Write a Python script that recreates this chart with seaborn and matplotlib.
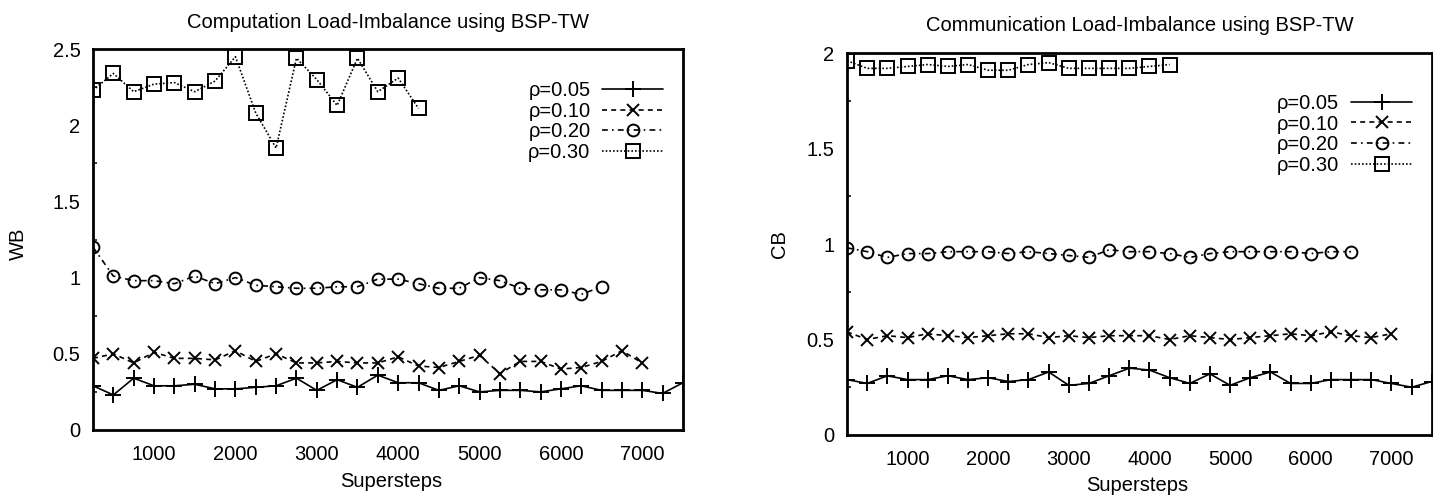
import numpy as np
import pandas as pd
import matplotlib
matplotlib.use("Agg")
import matplotlib.pyplot as plt
from matplotlib.ticker import FixedLocator, MultipleLocator, FormatStrFormatter
import seaborn as sns

# ---------------- data ----------------
supersteps = [250, 500, 750, 1000, 1250, 1500, 1750, 2000, 2250, 2500,
              2750, 3000, 3250, 3500, 3750, 4000, 4250, 4500, 4750, 5000,
              5250, 5500, 5750, 6000, 6250, 6500, 6750, 7000, 7250, 7500]

series_labels = ["\u03c1=0.05", "\u03c1=0.10", "\u03c1=0.20", "\u03c1=0.30"]

# Computation load-imbalance (WB)
wb_005 = [0.29, 0.23, 0.34, 0.29, 0.29, 0.30, 0.27, 0.27, 0.28, 0.29,
          0.34, 0.26, 0.33, 0.28, 0.36, 0.31, 0.31, 0.26, 0.29, 0.25,
          0.26, 0.26, 0.25, 0.27, 0.29, 0.26, 0.26, 0.26, 0.24, 0.31]
wb_010 = [0.47, 0.50, 0.44, 0.51, 0.47, 0.47, 0.46, 0.52, 0.45, 0.50,
          0.44, 0.44, 0.45, 0.44, 0.44, 0.48, 0.42, 0.41, 0.45, 0.49,
          0.37, 0.45, 0.45, 0.40, 0.41, 0.45, 0.52, 0.44]
wb_020 = [1.20, 1.01, 0.98, 0.98, 0.96, 1.01, 0.96, 1.00, 0.95, 0.94,
          0.93, 0.93, 0.94, 0.94, 0.99, 0.99, 0.96, 0.93, 0.93, 1.00,
          0.98, 0.93, 0.92, 0.92, 0.89, 0.94]
wb_030 = [2.23, 2.34, 2.22, 2.27, 2.28, 2.22, 2.29, 2.45, 2.08, 1.85,
          2.44, 2.30, 2.13, 2.44, 2.22, 2.31, 2.11]

# Communication load-imbalance (CB)
cb_005 = [0.29, 0.27, 0.31, 0.29, 0.29, 0.31, 0.29, 0.30, 0.28, 0.29,
          0.33, 0.26, 0.27, 0.31, 0.35, 0.34, 0.30, 0.27, 0.32, 0.26,
          0.30, 0.33, 0.27, 0.27, 0.29, 0.29, 0.29, 0.27, 0.25, 0.28]
cb_010 = [0.54, 0.50, 0.52, 0.51, 0.53, 0.52, 0.51, 0.52, 0.53, 0.53,
          0.51, 0.52, 0.51, 0.52, 0.52, 0.52, 0.50, 0.52, 0.51, 0.50,
          0.51, 0.52, 0.53, 0.52, 0.54, 0.52, 0.51, 0.53]
cb_020 = [0.98, 0.96, 0.93, 0.95, 0.95, 0.96, 0.96, 0.96, 0.95, 0.96,
          0.95, 0.94, 0.93, 0.97, 0.96, 0.96, 0.95, 0.93, 0.95, 0.96,
          0.96, 0.96, 0.96, 0.95, 0.96, 0.96]
cb_030 = [1.96, 1.92, 1.92, 1.93, 1.94, 1.93, 1.94, 1.91, 1.91, 1.94,
          1.95, 1.92, 1.92, 1.92, 1.92, 1.93, 1.94]

wb_ticks = [0, 0.5, 1, 1.5, 2, 2.5]
cb_ticks = [0, 0.5, 1, 1.5, 2]
x_ticks = [1000, 2000, 3000, 4000, 5000, 6000, 7000]

# ---------------- style ----------------
sns.set_theme(style="white")
plt.rcParams["font.family"] = ["Liberation Sans", "DejaVu Sans"]
FS = 14.5

styles = [
    dict(marker="+", linestyle="-", markersize=11, fillstyle="none"),
    dict(marker="x", linestyle=(0, (3, 2.5)), markersize=8.5, fillstyle="none"),
    dict(marker="o", linestyle=(0, (3.5, 2.5, 1, 2.5)), markersize=8.5, fillstyle="none"),
    dict(marker="s", linestyle=(0, (1, 1.2)), markersize=9.5, fillstyle="none"),
]

fig = plt.figure(figsize=(14.33, 4.96), dpi=100)
ax1 = fig.add_axes([0.0649, 0.1331, 0.4117, 0.768])
ax2 = fig.add_axes([0.5911, 0.1230, 0.4080, 0.770])


def draw(ax, data, yticks, ymax, title, ylabel, leg_anchor):
    for vals, lab, st in zip(data, series_labels, styles):
        df = pd.DataFrame({"x": supersteps[:len(vals)], "y": vals})
        sns.lineplot(data=df, x="x", y="y", ax=ax, color="black",
                     linewidth=1.2, markeredgecolor="black",
                     markeredgewidth=1.4, label=lab, **st)
    ax.set_xlim(250, 7500)
    ax.set_ylim(0, ymax)
    ax.xaxis.set_major_locator(FixedLocator(x_ticks))
    ax.yaxis.set_major_locator(FixedLocator(yticks))
    ax.yaxis.set_minor_locator(MultipleLocator(0.25))
    ax.yaxis.set_major_formatter(FormatStrFormatter("%g"))
    ax.tick_params(axis="both", which="both", direction="in", color="black",
                   labelsize=FS, labelcolor="black")
    ax.tick_params(axis="x", which="major", length=6, width=1.3, pad=11)
    ax.tick_params(axis="y", which="major", length=6, width=1.3, pad=9)
    ax.tick_params(axis="y", which="minor", length=3, width=1.1, left=True)
    for sp in ax.spines.values():
        sp.set_visible(True)
        sp.set_color("black")
        sp.set_linewidth(2.0)
    ax.set_title(title, fontsize=FS, y=1.071, va="center", pad=0, color="black")
    ax.set_xlabel("Supersteps", fontsize=FS, color="black", va="center")
    ax.set_ylabel(ylabel, fontsize=FS, color="black", va="center")
    ax.grid(False)
    leg = ax.legend(loc="upper right", bbox_to_anchor=leg_anchor,
                    frameon=False, markerfirst=False, fontsize=FS,
                    handlelength=3.0, handletextpad=0.6, labelspacing=0.08,
                    borderaxespad=0, borderpad=0)
    for t in leg.get_texts():
        t.set_color("black")
    return leg


draw(ax1, [wb_005, wb_010, wb_020, wb_030], wb_ticks, 2.5,
     "Computation Load-Imbalance using BSP-TW", "WB", (0.966, 0.916))
ax1.xaxis.set_label_coords(0.505, -0.136)
ax1.yaxis.set_label_coords(-0.127, 0.49)

draw(ax2, [cb_005, cb_010, cb_020, cb_030], cb_ticks, 2.0,
     "Communication Load-Imbalance using BSP-TW", "CB", (0.966, 0.893))
ax2.xaxis.set_label_coords(0.496, -0.131)
ax2.yaxis.set_label_coords(-0.116, 0.50)

fig.savefig("out.png", dpi=100, facecolor="white")
